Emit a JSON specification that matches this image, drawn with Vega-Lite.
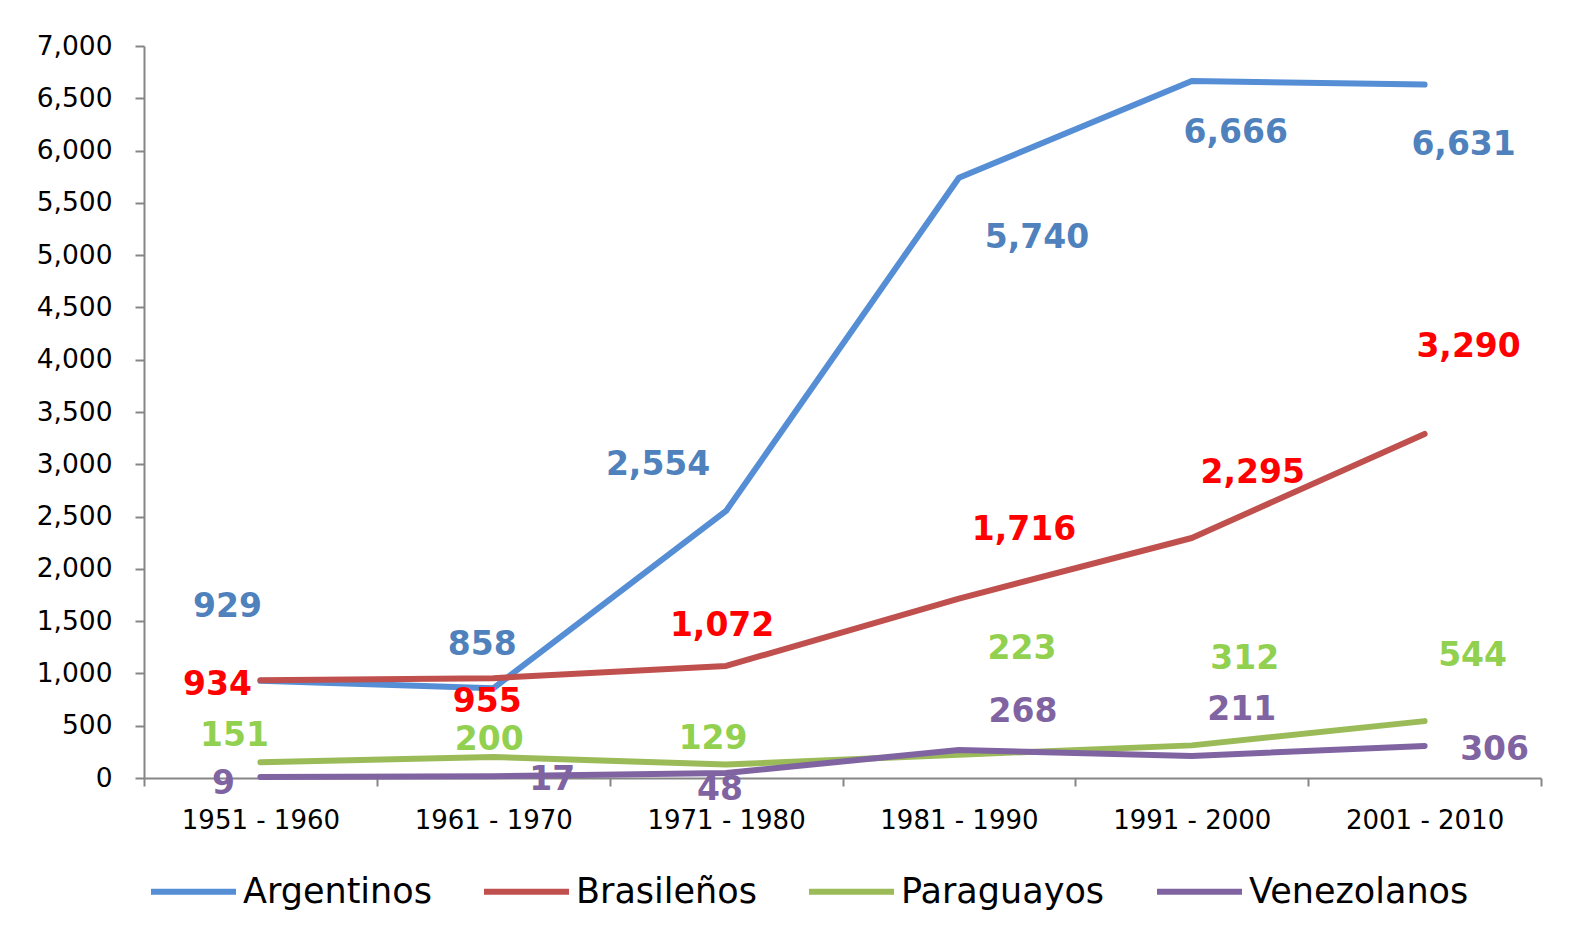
{
  "$schema": "https://vega.github.io/schema/vega-lite/v6.json",
  "width": 1397,
  "height": 732,
  "autosize": "none",
  "padding": {"left": 144, "top": 46, "right": 42, "bottom": 163},
  "background": "white",
  "config": {
    "font": "DejaVu Sans",
    "view": {"stroke": null},
    "axis": {"grid": false, "domainColor": "#868686", "domainWidth": 2, "tickColor": "#868686", "tickWidth": 2, "labelColor": "#000000", "title": null}
  },
  "data": {
    "values": [
      {"Periodo": "1951 - 1960", "Serie": "Argentinos", "Valor": 929},
      {"Periodo": "1961 - 1970", "Serie": "Argentinos", "Valor": 858},
      {"Periodo": "1971 - 1980", "Serie": "Argentinos", "Valor": 2554},
      {"Periodo": "1981 - 1990", "Serie": "Argentinos", "Valor": 5740},
      {"Periodo": "1991 - 2000", "Serie": "Argentinos", "Valor": 6666},
      {"Periodo": "2001 - 2010", "Serie": "Argentinos", "Valor": 6631},
      {"Periodo": "1951 - 1960", "Serie": "Brasileños", "Valor": 934},
      {"Periodo": "1961 - 1970", "Serie": "Brasileños", "Valor": 955},
      {"Periodo": "1971 - 1980", "Serie": "Brasileños", "Valor": 1072},
      {"Periodo": "1981 - 1990", "Serie": "Brasileños", "Valor": 1716},
      {"Periodo": "1991 - 2000", "Serie": "Brasileños", "Valor": 2295},
      {"Periodo": "2001 - 2010", "Serie": "Brasileños", "Valor": 3290},
      {"Periodo": "1951 - 1960", "Serie": "Paraguayos", "Valor": 151},
      {"Periodo": "1961 - 1970", "Serie": "Paraguayos", "Valor": 200},
      {"Periodo": "1971 - 1980", "Serie": "Paraguayos", "Valor": 129},
      {"Periodo": "1981 - 1990", "Serie": "Paraguayos", "Valor": 223},
      {"Periodo": "1991 - 2000", "Serie": "Paraguayos", "Valor": 312},
      {"Periodo": "2001 - 2010", "Serie": "Paraguayos", "Valor": 544},
      {"Periodo": "1951 - 1960", "Serie": "Venezolanos", "Valor": 9},
      {"Periodo": "1961 - 1970", "Serie": "Venezolanos", "Valor": 17},
      {"Periodo": "1971 - 1980", "Serie": "Venezolanos", "Valor": 48},
      {"Periodo": "1981 - 1990", "Serie": "Venezolanos", "Valor": 268},
      {"Periodo": "1991 - 2000", "Serie": "Venezolanos", "Valor": 211},
      {"Periodo": "2001 - 2010", "Serie": "Venezolanos", "Valor": 306}
    ]
  },
  "encoding": {
    "x": {
      "field": "Periodo", "type": "nominal", "sort": null,
      "scale": {"type": "band", "paddingInner": 0, "paddingOuter": 0},
      "axis": {"labelAngle": 0, "labelFontSize": 26, "tickSize": 8, "tickBand": "extent", "labelPadding": 21}
    },
    "y": {
      "field": "Valor", "type": "quantitative",
      "scale": {"domain": [0, 7000], "nice": false},
      "axis": {"values": [0, 500, 1000, 1500, 2000, 2500, 3000, 3500, 4000, 4500, 5000, 5500, 6000, 6500, 7000], "format": ",.0f", "labelFontSize": 26.5, "tickSize": 9, "labelPadding": 23}
    }
  },
  "layer": [
    {
      "mark": {"type": "line", "strokeWidth": 6, "strokeCap": "round", "strokeJoin": "round"},
      "encoding": {
        "color": {
          "field": "Serie", "type": "nominal",
          "scale": {"domain": ["Argentinos", "Brasileños", "Paraguayos", "Venezolanos"], "range": ["#558ED5", "#C0504D", "#9BBB59", "#8064A2"]},
          "legend": {
            "title": null, "orient": "none", "direction": "horizontal", "legendX": 4, "legendY": 800,
            "symbolType": "stroke", "symbolSize": 7225, "symbolStrokeWidth": 6,
            "labelFontSize": 35, "labelColor": "#000000", "labelOffset": 4, "columnPadding": 40, "labelLimit": 400
          }
        }
      }
    },
    {
      "mark": {
        "type": "text", "fontSize": 33, "fontWeight": "bold", "align": "center", "baseline": "middle",
        "dx": {"expr": "({'Argentinos':[-33,-11,-68,78,44,39],'Brasileños':[-43,-6,-4,65,61,44],'Paraguayos':[-26,-4,-13,63,53,48],'Venezolanos':[-37,59,-6,64,50,70]})[datum.Serie][indexof(['1951 - 1960','1961 - 1970','1971 - 1980','1981 - 1990','1991 - 2000','2001 - 2010'], datum.Periodo)]"},
        "dy": {"expr": "({'Argentinos':[-74,-43,-46,60,52,60],'Brasileños':[5,24,-40,-69,-65,-87],'Paraguayos':[-26,-17,-26,-106,-86,-65],'Venezolanos':[7,4,17,-38,-46,4]})[datum.Serie][indexof(['1951 - 1960','1961 - 1970','1971 - 1980','1981 - 1990','1991 - 2000','2001 - 2010'], datum.Periodo)]"}
      },
      "encoding": {
        "text": {"field": "Valor", "type": "quantitative", "format": ",.0f"},
        "color": {
          "field": "Serie", "type": "nominal",
          "scale": {"domain": ["Argentinos", "Brasileños", "Paraguayos", "Venezolanos"], "range": ["#4F81BD", "#FF0000", "#92D050", "#8064A2"]},
          "legend": null
        }
      }
    }
  ],
  "resolve": {"scale": {"color": "independent"}}
}
